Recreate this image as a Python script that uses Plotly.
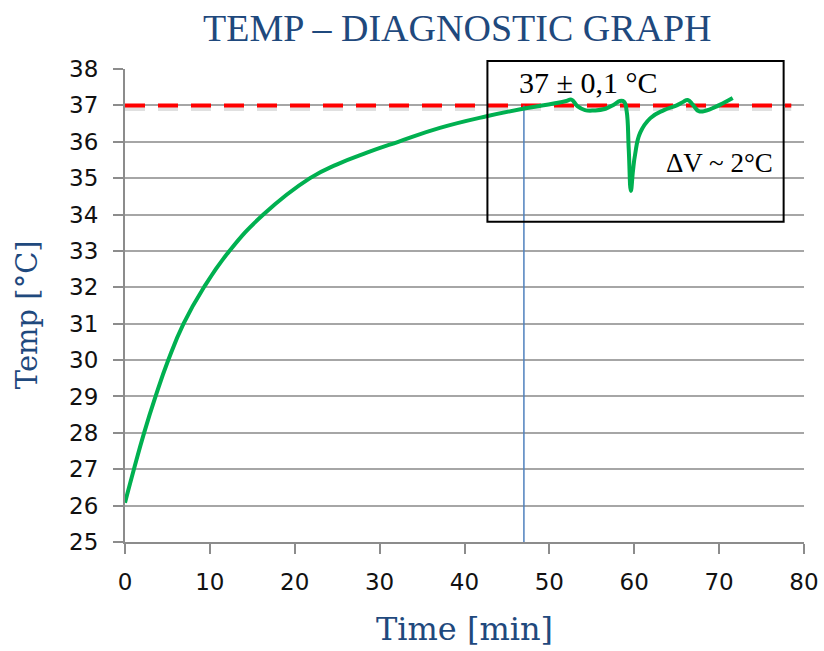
import plotly.graph_objects as go

# ---- data ----
time_min = [0, 1.05, 2.25, 3.6, 5.1, 6.9, 9.3, 12.3, 16.3, 21.8, 25.0, 28.5, 32.2,
            37.1, 42.6, 47.2, 50.5, 52.0, 52.6, 53.3, 54.2, 55.3, 56.5, 57.6, 58.3, 58.8,
            59.1, 59.35, 59.6, 59.85, 60.1, 60.7, 61.9, 63.5, 65.0, 65.8, 66.3, 66.9, 67.6,
            68.5, 69.5, 70.4, 71.6]
temp_c = [26.08, 27.0, 28.0, 29.0, 30.0, 31.0, 32.0, 33.0, 34.0, 35.0, 35.38, 35.7,
          36.0, 36.38, 36.7, 36.92, 37.05, 37.12, 37.16, 36.98, 36.87, 36.86, 36.9, 37.02,
          37.12, 37.1, 36.85, 35.8, 34.65, 35.2, 35.65, 36.25, 36.65, 36.87, 37.0, 37.1,
          37.15, 37.02, 36.84, 36.86, 36.95, 37.05, 37.2]
target_x = [0, 78.5]
target_temp = 37
marker_time = 47.0
box_x = [42.7, 77.6]
box_temp = [33.8, 38.22]
x_ticks = [0, 10, 20, 30, 40, 50, 60, 70, 80]
y_ticks = list(range(25, 39))
y_range = [25, 38]

BLUE = "#1f497d"

fig = go.Figure()

# shadow of target line
fig.add_trace(go.Scatter(x=target_x, y=[target_temp - 0.06] * 2, mode="lines",
                         line=dict(color="rgba(0,0,0,0.12)", width=7, dash="20px,13px"),
                         hoverinfo="skip", showlegend=False))
# target line
fig.add_trace(go.Scatter(x=target_x, y=[target_temp] * 2, mode="lines",
                         line=dict(color="#ff0000", width=4, dash="20px,13px"),
                         showlegend=False))
# vertical marker
fig.add_trace(go.Scatter(x=[marker_time, marker_time], y=[y_range[0], target_temp], mode="lines",
                         line=dict(color="#4f81bd", width=1.5), showlegend=False))
# temperature curve
fig.add_trace(go.Scatter(x=time_min, y=temp_c, mode="lines",
                         line=dict(color="#00b050", width=4, shape="spline", smoothing=1.3),
                         showlegend=False))

span = y_range[1] - y_range[0]
fig.add_shape(type="rect", xref="x", yref="paper", x0=box_x[0], x1=box_x[1],
              y0=(box_temp[0] - y_range[0]) / span, y1=(box_temp[1] - y_range[0]) / span,
              line=dict(color="black", width=2), layer="above")

fig.add_annotation(x=54.6, y=37.62, xref="x", yref="y", text="37 ± 0,1 °C", showarrow=False,
                   font=dict(family="Liberation Serif", size=30, color="black"))
fig.add_annotation(x=70.0, y=35.42, xref="x", yref="y", text="ΔV ~ 2°C", showarrow=False,
                   font=dict(family="Liberation Serif", size=27, color="black"))
# y-axis title
fig.add_annotation(x=-0.144, y=0.48, xref="paper", yref="paper", text="Temp [°C]",
                   textangle=-90, showarrow=False, xanchor="center", yanchor="middle",
                   font=dict(family="DejaVu Serif", size=29, color=BLUE))

fig.update_layout(
    width=824, height=651,
    margin=dict(l=125, r=20, t=69, b=109),
    paper_bgcolor="white", plot_bgcolor="white",
    title=dict(text="TEMP – DIAGNOSTIC GRAPH", x=0.555, xanchor="center", y=0.958, yanchor="middle",
               font=dict(family="Liberation Serif", size=38, color=BLUE)),
    xaxis=dict(range=[0, 80], tickvals=x_ticks, showgrid=False, zeroline=False, automargin=False,
               showline=True, linecolor="#8c8c8c", linewidth=2,
               ticks="outside", ticklen=10, tickwidth=2, tickcolor="#8c8c8c",
               ticklabelstandoff=8,
               tickfont=dict(family="DejaVu Sans", size=23, color="#111"),
               title=dict(text="Time [min]", font=dict(family="DejaVu Serif", size=32, color=BLUE),
                          standoff=24)),
    yaxis=dict(range=y_range, tickvals=y_ticks, showgrid=True, gridcolor="#a6a6a6", gridwidth=2,
               zeroline=False, showline=True, linecolor="#8c8c8c", linewidth=2, automargin=False,
               ticks="outside", ticklen=10, tickwidth=2, tickcolor="#8c8c8c",
               ticklabelstandoff=10,
               tickfont=dict(family="DejaVu Sans", size=23, color="#111")),
)

fig.write_html("out.html")
